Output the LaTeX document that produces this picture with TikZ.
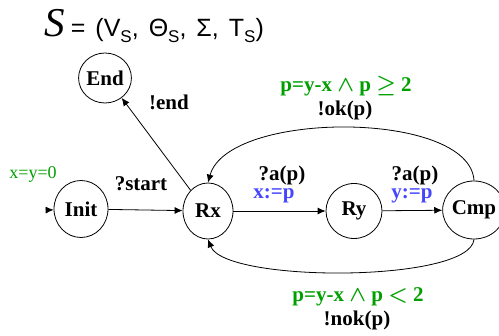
\documentclass[tikz,border=0pt]{standalone}
\usepackage{fontspec}
\setmainfont{Liberation Serif}
\setsansfont{Liberation Sans}
\usetikzlibrary{arrows.meta,shapes.geometric}
\definecolor{guardgreen}{RGB}{0,160,0}
\definecolor{updblue}{RGB}{70,70,255}
\newcommand{\sub}{\raisebox{-0.45ex}{\fontsize{8.5}{9}\selectfont S}}

\begin{document}
\begin{tikzpicture}[x=0.5pt, y=-0.5pt,
  state/.style={draw, ellipse, inner sep=0pt, font=\fontsize{10.5}{12}\selectfont\bfseries},
  trans/.style={-{Latex[length=4pt,width=3.5pt]}},
  lbl/.style={font=\fontsize{10.5}{12}\selectfont\bfseries, inner sep=0pt, anchor=base},
  guard/.style={lbl, font=\fontsize{10.5}{12}\selectfont\bfseries\boldmath, text=guardgreen},
  upd/.style={lbl, text=updblue}
]
\useasboundingbox (0,0) rectangle (499,336);

% ---- title ----
\node[anchor=base west, inner sep=0pt] (title) at (44,37)
  {{\fontsize{20.5}{22}\selectfont\itshape S}\hspace{3pt}{\sffamily\fontsize{12.5}{14}\selectfont\spaceskip=0.4em
   = (V\sub, Θ\sub, Σ, T\sub)}};

% ---- states ----
\node[state, minimum width=27pt, minimum height=28.5pt] (init) at (81,209)  {Init};
\node[state, minimum width=25pt, minimum height=28pt]   (rx)   at (208,211) {Rx};
\node[state, minimum width=28pt, minimum height=27.5pt] (ry)   at (354,211) {Ry};
\node[state, minimum width=24pt, minimum height=29pt]   (cmp)  at (474,210) {Cmp};
\node[state, minimum width=23.5pt, minimum height=25pt] (end)  at (105,78)  {End};

% ---- transitions ----
\coordinate (entry) at (48,210);
\node[text=guardgreen, font=\fontsize{9}{10}\selectfont, inner sep=0pt, anchor=base] (initval) at (33,179) {x=y=0};
\draw[trans] (entry) -- (init);
\draw[trans] (init) -- (rx);
\node[lbl] (startlbl) at (141,191) {?start};
\draw[trans] (rx.130) -- (end.-50);
\node[lbl] (endlbl) at (169,110) {!end};
\draw[trans] (rx) -- (ry);
\node[lbl] (recvx) at (282,181) {?a(p)};
\node[upd] (setx) at (274,199) {x:=p};
\draw[trans] (ry) -- (cmp);
\node[lbl] (recvy) at (415,181) {?a(p)};
\node[upd] (sety) at (412,199) {y:=p};

% ---- comparison outcomes ----
\draw[trans] (cmp.north) .. controls (470,110) and (228,110) .. (rx.north);
\node[guard] (okguard) at (346,92) {p=y-x $\wedge$ p $\geq$ 2};
\node[lbl] (oklbl) at (345,116) {!ok(p)};
\draw[trans] (cmp.south) .. controls (470,283) and (225,283) .. (rx.south);
\node[guard] (nokguard) at (358,302) {p=y-x $\wedge$ p $<$ 2};
\node[lbl] (noklbl) at (357,326) {!nok(p)};

\end{tikzpicture}
\end{document}
